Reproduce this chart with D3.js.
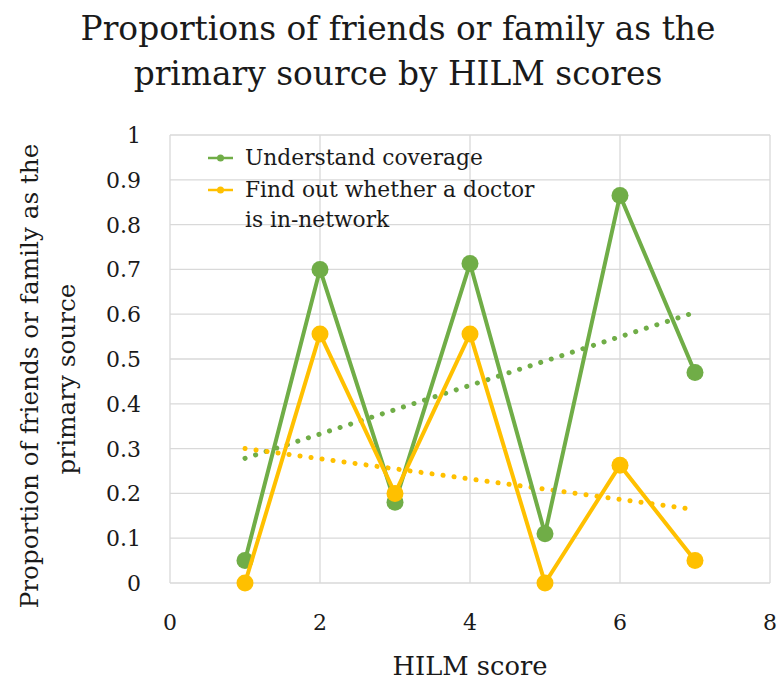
<!DOCTYPE html>
<html>
<head>
<meta charset="utf-8">
<script src="https://cdn.jsdelivr.net/npm/d3@7"></script>
<style>
  body { margin: 0; background: #fff; }
  text { font-family: "DejaVu Serif", "Liberation Serif", serif; fill: #1a1a1a; }
</style>
</head>
<body>
<div id="chart"></div>
<script>
// data
var scores = [1, 2, 3, 4, 5, 6, 7]
var coverage = [0.05, 0.70, 0.18, 0.713, 0.11, 0.865, 0.47]
var inNetwork = [0, 0.556, 0.20, 0.556, 0, 0.263, 0.05]
var seriesNames = ["Understand coverage", "Find out whether a doctor"]
var seriesColors = ["#70AD47", "#FFC000"]
var xTicks = [0, 2, 4, 6, 8]
var yTicks = [0, 0.1, 0.2, 0.3, 0.4, 0.5, 0.6, 0.7, 0.8, 0.9, 1]

var W = 782, H = 682
var margin = {top: 135, right: 12, bottom: 99, left: 170},
    width = W - margin.left - margin.right,
    height = H - margin.top - margin.bottom

var svg = d3.select("#chart").append("svg")
    .attr("width", W).attr("height", H)

// size a text so its width matches what the reference shows
function fit(sel, target){
  var w = sel.node().getComputedTextLength()
  var fs = parseFloat(sel.attr("font-size"))
  sel.attr("font-size", (fs * target / w) + "px")
}

var g = svg.append("g")
    .attr("transform", "translate(" + margin.left + "," + margin.top + ")")

var xScale = d3.scaleLinear().domain([0, 8]).range([0, width])
var yScale = d3.scaleLinear().domain([0, 1]).range([height, 0])

// gridlines
g.selectAll(".hgrid").data(yTicks).enter().append("line")
    .attr("x1", 0).attr("x2", width)
    .attr("y1", function(d){ return yScale(d) })
    .attr("y2", function(d){ return yScale(d) })
    .attr("stroke", "#d9d9d9").attr("stroke-width", 1.3)

g.selectAll(".vgrid").data(xTicks).enter().append("line")
    .attr("y1", 0).attr("y2", height)
    .attr("x1", function(d){ return xScale(d) })
    .attr("x2", function(d){ return xScale(d) })
    .attr("stroke", "#d9d9d9").attr("stroke-width", 1.3)

// tick label size from "0.9" (about 35px wide in the reference)
var probe = svg.append("text").attr("font-size", "20px").text("0.9")
fit(probe, 35)
var tickSize = probe.attr("font-size")
probe.remove()

g.selectAll(".ylab").data(yTicks).enter().append("text")
    .attr("x", -29)
    .attr("y", function(d){ return yScale(d) })
    .attr("dy", "0.36em")
    .attr("text-anchor", "end")
    .attr("font-size", tickSize)
    .text(function(d){ return d3.format("")(+d.toFixed(1)) })

g.selectAll(".xlab").data(xTicks).enter().append("text")
    .attr("x", function(d){ return xScale(d) })
    .attr("y", height + 47)
    .attr("text-anchor", "middle")
    .attr("font-size", tickSize)
    .text(function(d){ return d })

// trendlines (least squares, like Excel)
function trend(ys){
  var mx = d3.mean(scores), my = d3.mean(ys)
  var sxy = d3.sum(scores, function(x, i){ return (x - mx) * (ys[i] - my) })
  var sxx = d3.sum(scores, function(x){ return (x - mx) * (x - mx) })
  var b = sxy / sxx, a = my - b * mx
  return [[scores[0], a + b * scores[0]], [scores[scores.length - 1], a + b * scores[scores.length - 1]]]
}

var line = d3.line()
    .x(function(d){ return xScale(d[0]) })
    .y(function(d){ return yScale(d[1]) })

var allSeries = [coverage, inNetwork]

allSeries.forEach(function(ys, k){
  g.append("path")
    .attr("d", line(trend(ys)))
    .attr("fill", "none")
    .attr("stroke", seriesColors[k])
    .attr("stroke-width", 5)
    .attr("stroke-linecap", "round")
    .attr("stroke-dasharray", "0.1,11")
})

allSeries.forEach(function(ys, k){
  var pts = scores.map(function(x, i){ return [x, ys[i]] })
  g.append("path")
    .attr("d", line(pts))
    .attr("fill", "none")
    .attr("stroke", seriesColors[k])
    .attr("stroke-width", 4)
    .attr("stroke-linejoin", "round")
  g.selectAll(".pt" + k).data(pts).enter().append("circle")
    .attr("cx", function(d){ return xScale(d[0]) })
    .attr("cy", function(d){ return yScale(d[1]) })
    .attr("r", 8.5)
    .attr("fill", seriesColors[k])
})

// legend
var legend = svg.append("g").attr("transform", "translate(208,158)")
var probe2 = svg.append("text").attr("font-size", "20px").text(seriesNames[0])
fit(probe2, 238)
var legendSize = probe2.attr("font-size")
probe2.remove()
seriesNames.forEach(function(name, k){
  var y = k * 32
  legend.append("line")
    .attr("x1", 0).attr("x2", 25).attr("y1", y).attr("y2", y)
    .attr("stroke", seriesColors[k]).attr("stroke-width", 2.5)
  legend.append("circle")
    .attr("cx", 12.5).attr("cy", y).attr("r", 3.5)
    .attr("fill", seriesColors[k])
  legend.append("text")
    .attr("x", 37).attr("y", y + 7)
    .attr("font-size", legendSize)
    .text(name)
})
legend.append("text")
    .attr("x", 37).attr("y", 69)
    .attr("font-size", legendSize)
    .text("is in-network")

// title
var title1 = svg.append("text")
    .attr("x", 398).attr("y", 40).attr("text-anchor", "middle")
    .attr("font-size", "30px")
    .text("Proportions of friends or family as the")
fit(title1, 635)
svg.append("text")
    .attr("x", 398).attr("y", 85).attr("text-anchor", "middle")
    .attr("font-size", title1.attr("font-size"))
    .text("primary source by HILM scores")

// axis titles
var xt = svg.append("text")
    .attr("x", 470).attr("y", 675)
    .attr("text-anchor", "middle")
    .attr("font-size", "26px")
    .text("HILM score")
fit(xt, 155)

var yt1 = svg.append("text")
    .attr("transform", "translate(38,376) rotate(-90)")
    .attr("text-anchor", "middle")
    .attr("font-size", "26px")
    .text("Proportion of friends or family as the")
fit(yt1, 465)
svg.append("text")
    .attr("transform", "translate(75,379) rotate(-90)")
    .attr("text-anchor", "middle")
    .attr("font-size", yt1.attr("font-size"))
    .text("primary source")
</script>
</body>
</html>
